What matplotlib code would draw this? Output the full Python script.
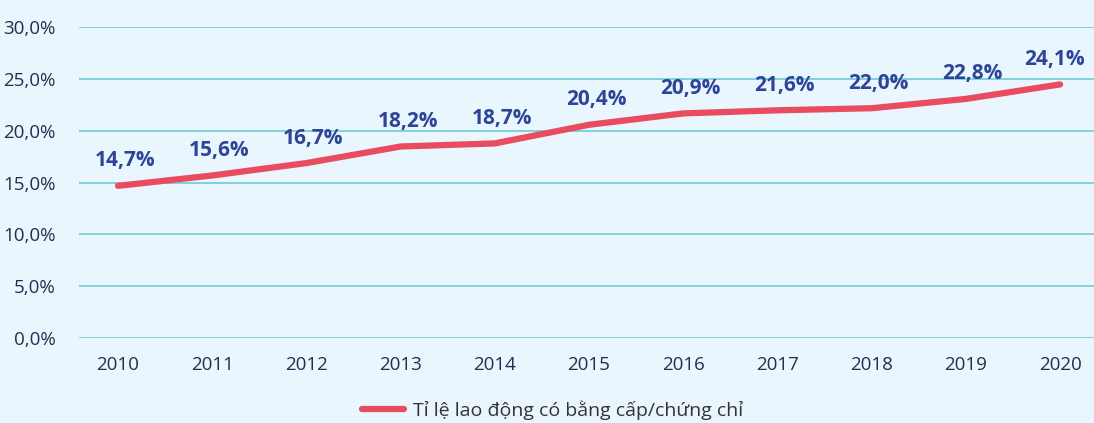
import matplotlib.pyplot as plt

plt.rcParams['font.family'] = ['Open Sans', 'DejaVu Sans']

years = ['2010', '2011', '2012', '2013', '2014', '2015', '2016', '2017', '2018', '2019', '2020']
# line as drawn in the picture
rate = [14.7, 15.7, 16.9, 18.5, 18.8, 20.6, 21.7, 22.0, 22.2, 23.1, 24.5]
# value labels as printed
labels = ['14,7%', '15,6%', '16,7%', '18,2%', '18,7%', '20,4%', '20,9%', '21,6%', '22,0%', '22,8%', '24,1%']
yticks = [0, 5, 10, 15, 20, 25, 30]
series_name = 'Tỉ lệ lao động có bằng cấp/chứng chỉ'

bg = '#e9f6fd'
fig = plt.figure(figsize=(10.94, 4.23), dpi=100, facecolor=bg)
ax = fig.add_axes([0.0722, 0.201, 0.9278, 0.734], facecolor=bg)

x = list(range(len(years)))
ax.plot(x, rate, color='#e84c5e', lw=4.5, solid_capstyle='round', label=series_name, zorder=3)

for i, (xi, yi, lab) in enumerate(zip(x, rate, labels)):
    dx = -4 if i == len(x) - 1 else 5
    ax.annotate(lab, (xi, yi), xytext=(dx, 18), textcoords='offset points',
                ha='center', va='center', fontsize=15, fontweight='bold',
                color='#2d4499', annotation_clip=False)

ax.set_ylim(0, 30)
ax.set_xlim(-0.414, 10.36)
ax.set_yticks(yticks)
ax.set_yticklabels(['%d,0%%' % v for v in yticks])
ax.set_xticks(x)
ax.set_xticklabels(years)
ax.grid(axis='y', color='#6fcad3', lw=1.2)
ax.set_axisbelow(True)
for s in ax.spines.values():
    s.set_visible(False)
ax.tick_params(length=0, labelsize=13.5, colors='#2b2b4f')
ax.tick_params(axis='y', pad=17)
ax.tick_params(axis='x', pad=13)

fig.legend(loc='center', bbox_to_anchor=(0.505, 0.03), frameon=False, fontsize=14,
           handlelength=2.2, handletextpad=0.45, labelcolor='#333333')

plt.savefig('out.png', facecolor=bg)
